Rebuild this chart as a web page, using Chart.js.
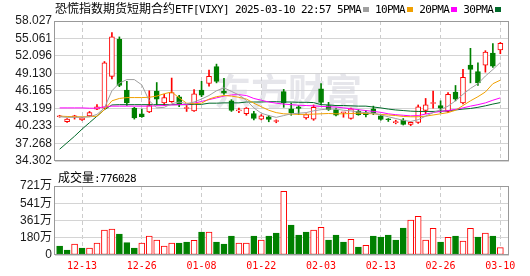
<!DOCTYPE html>
<html>
<head>
<meta charset="utf-8">
<script src="https://cdn.jsdelivr.net/npm/chart.js@4.4.1/dist/chart.umd.min.js"></script>
<style>
html, body { margin: 0; padding: 0; background: #fff; }
#wrap { position: relative; width: 530px; height: 276px; overflow: hidden; }
#kline { position: absolute; left: 0; top: 0; }
#vol { position: absolute; left: 0; top: 170px; }
.txt { position: absolute; white-space: nowrap; font-size: 12px; line-height: 14px; color: #000; }
.cn { font-family: 'Noto Sans CJK SC'; }
.mono { font-family: 'DejaVu Sans Mono'; font-size: 11px; letter-spacing: -0.62px; }
.sq { display: inline-block; width: 6px; height: 5px; margin: 0 6px 0 2px; vertical-align: 1px; }
</style>
</head>
<body>
<div id="wrap">
  <canvas id="kline" width="530" height="170"></canvas>
  <canvas id="vol" width="530" height="106"></canvas>
  <div class="txt" style="left:55px;top:1px;"><span class="cn">恐慌指数期货短期合约</span><span class="mono">ETF[VIXY] 2025-03-10 22:57 5PMA</span><span class="sq" style="background:#a0a0a0"></span><span class="mono">10PMA</span><span class="sq" style="background:#f0a000"></span><span class="mono">20PMA</span><span class="sq" style="background:#ff00ff"></span><span class="mono">30PMA</span><span class="sq" style="background:#006a2a"></span></div>
  <div class="txt" style="left:58px;top:170px;"><span class="cn">成交量</span><span class="mono">:776028</span></div>
</div>
<script>
const dates = ['12-10','12-11','12-12','12-13','12-16','12-17','12-18','12-19','12-20','12-23',
  '12-24','12-26','12-27','12-30','12-31','01-02','01-03','01-06','01-07','01-08',
  '01-10','01-13','01-14','01-15','01-16','01-17','01-21','01-22','01-23','01-24',
  '01-27','01-28','01-29','01-30','01-31','02-03','02-04','02-05','02-06','02-07',
  '02-10','02-11','02-12','02-13','02-14','02-18','02-19','02-20','02-21','02-24',
  '02-25','02-26','02-27','02-28','03-03','03-04','03-05','03-06','03-07','03-10'];

const opens = [41.80, 40.95, 41.80, 41.28, 41.94, 43.10, 43.25, 48.63, 54.90, 46.33,
  43.25, 42.30, 42.60, 46.16, 44.13, 44.35, 45.18, 43.20, 42.80, 46.33,
  47.43, 50.30, 46.10, 44.50, 42.80, 42.32, 42.32, 41.39, 41.77, 41.00,
  46.05, 43.15, 43.50, 41.60, 41.39, 46.55, 43.70, 43.00, 42.48, 41.50,
  42.70, 42.50, 43.15, 41.94, 41.40, 40.80, 41.22, 40.52, 40.84, 42.87,
  44.05, 43.70, 42.70, 45.99, 44.13, 50.56, 49.46, 50.56, 52.59, 53.14];
const highs = [42.05, 41.50, 42.05, 41.70, 42.70, 43.86, 51.16, 56.05, 55.33, 47.80,
  43.40, 43.10, 46.20, 47.60, 45.60, 48.36, 45.45, 43.70, 46.40, 47.80,
  49.73, 50.72, 48.30, 44.70, 43.25, 43.36, 42.70, 42.16, 42.05, 41.28,
  46.44, 44.13, 43.70, 42.30, 43.80, 47.43, 44.24, 43.25, 42.55, 43.25,
  43.00, 42.87, 43.60, 42.05, 41.50, 41.22, 41.50, 40.95, 43.80, 44.90,
  46.16, 44.50, 45.90, 47.10, 49.84, 53.40, 50.94, 53.00, 54.20, 54.40];
const lows = [41.72, 40.84, 41.40, 41.20, 41.83, 43.00, 43.14, 48.20, 46.90, 43.70,
  41.40, 41.70, 42.50, 43.80, 43.70, 44.24, 43.50, 42.70, 42.70, 45.20,
  47.00, 47.54, 45.60, 42.70, 42.50, 42.05, 41.28, 41.28, 40.95, 40.78,
  43.40, 42.05, 42.16, 41.39, 41.20, 43.80, 42.87, 41.94, 41.72, 41.39,
  42.05, 41.77, 42.16, 41.22, 41.00, 40.60, 40.40, 40.30, 40.68, 42.32,
  43.25, 42.50, 42.50, 44.50, 43.97, 47.54, 47.10, 49.35, 50.17, 52.48];
const closes = [41.85, 41.39, 41.85, 41.60, 42.50, 43.50, 50.94, 55.33, 47.10, 44.13,
  41.60, 41.83, 43.70, 44.80, 45.07, 45.90, 43.86, 43.30, 45.70, 45.45,
  48.63, 47.80, 45.80, 42.87, 42.90, 43.25, 41.50, 41.94, 41.33, 41.06,
  44.13, 42.50, 43.20, 42.16, 43.40, 44.24, 43.00, 42.05, 42.52, 43.15,
  42.16, 42.16, 42.50, 41.33, 41.30, 40.87, 40.50, 40.84, 43.50, 43.80,
  44.13, 43.25, 45.60, 44.80, 48.47, 49.84, 47.54, 52.75, 50.39, 54.23];

const ma5 = [41.8, 41.7, 41.7, 41.7, 41.8, 42.2, 43.3, 46.2, 47.5, 48.1,
  48.1, 47.2, 44.5, 43.3, 43.4, 44.0, 44.3, 44.0, 44.3, 44.8,
  45.4, 46.2, 46.7, 46.1, 45.5, 44.6, 43.3, 42.4, 42.0, 41.7,
  42.0, 42.3, 42.4, 42.5, 42.8, 43.0, 43.1, 43.1, 42.9, 42.8,
  42.6, 42.5, 42.4, 42.1, 41.8, 41.5, 41.2, 41.0, 41.3, 41.9,
  42.5, 43.0, 43.6, 44.5, 45.6, 46.6, 47.4, 48.7, 49.8, 51.0];
const ma10 = [41.9, 41.85, 41.8, 41.8, 41.8, 41.9, 43.0, 44.5, 44.9, 45.05,
  45.05, 45.05, 45.1, 45.3, 45.7, 46.0, 45.0, 44.1, 44.0, 44.1,
  44.8, 45.2, 45.4, 45.3, 45.1, 44.8, 44.1, 43.5, 42.9, 42.5,
  42.3, 42.25, 42.2, 42.2, 42.25, 42.3, 42.35, 42.3, 42.3, 42.35,
  42.4, 42.35, 42.3, 42.2, 42.1, 42.0, 41.85, 41.8, 41.8, 41.9,
  42.1, 42.3, 42.5, 42.9, 43.7, 44.5, 45.2, 46.0, 47.4, 48.0];
const ma20 = [43.3, 43.3, 43.3, 43.3, 43.25, 43.25, 43.5, 43.6, 43.6, 43.6,
  43.6, 43.6, 43.6, 43.65, 43.7, 43.8, 43.85, 43.9, 44.1, 44.4,
  44.7, 45.0, 45.3, 45.5, 45.55, 45.4, 44.9, 44.6, 44.3, 44.1,
  43.95, 43.85, 43.75, 43.7, 43.65, 43.55, 43.5, 43.45, 43.3, 43.15,
  43.0, 42.85, 42.7, 42.55, 42.3, 42.15, 42.05, 41.95, 42.0, 42.25,
  42.5, 42.7, 42.85, 43.05, 43.3, 43.6, 43.85, 44.15, 44.6, 45.0];
const ma30 = [36.3, 37.4, 38.5, 39.7, 40.8, 41.9, 43.0, 43.8, 43.85, 43.85,
  43.85, 43.85, 43.85, 43.85, 43.85, 43.85, 43.85, 43.85, 43.9, 43.9,
  44.1, 44.1, 44.15, 44.15, 44.15, 44.3, 44.3, 44.3, 44.35, 44.35,
  44.3, 44.3, 44.25, 44.25, 44.2, 43.85, 43.8, 43.7, 43.7, 43.65,
  43.6, 43.6, 43.45, 43.3, 43.1, 42.95, 42.85, 42.75, 42.7, 42.7,
  42.7, 42.75, 42.8, 42.95, 43.1, 43.2, 43.4, 43.65, 43.95, 44.2];

// volume in 万
const volumes = [94, 52, 115, 73, 73, 125, 261, 271, 219, 129,
  73, 125, 198, 157, 94, 125, 125, 136, 153, 240,
  240, 136, 115, 198, 125, 125, 198, 157, 198, 230,
  665, 313, 209, 240, 261, 289, 157, 209, 136, 164,
  84, 101, 198, 188, 209, 157, 282, 366, 404, 157,
  279, 136, 185, 198, 146, 279, 188, 230, 198, 77.6];
// 1 = red (up), 0 = green (down), as coloured in the volume panel
const volUp = [0, 0, 1, 0, 1, 1, 1, 1, 0, 0,
  0, 1, 1, 1, 1, 1, 0, 0, 1, 0,
  1, 0, 0, 0, 1, 1, 0, 1, 0, 0,
  1, 0, 0, 0, 1, 1, 0, 0, 0, 1,
  0, 1, 0, 0, 0, 0, 0, 1, 1, 1,
  1, 0, 1, 0, 1, 1, 0, 1, 0, 1];

const priceTicks = [34.302, 37.268, 40.233, 43.199, 46.165, 49.130, 52.096, 55.061, 58.027];
const priceTickLabels = ['34.302', '37.268', '40.233', '43.199', '46.165', '49.130', '52.096', '55.061', '58.027'];
const volTicks = [0, 180.25, 360.5, 540.75, 721];
const volTickLabels = ['0', '180万', '361万', '541万', '721万'];
const dateTicks = ['12-13', '12-26', '01-08', '01-22', '02-03', '02-13', '02-26', '03-10'];

const RED = '#ff0000';
const GREEN = '#008000';
const idx = dates.map((d, i) => i);

const framePlugin = {
  id: 'frame',
  beforeDatasetsDraw(chart, args, opts) {
    if (!opts.watermark) return;
    const ctx = chart.ctx;
    ctx.save();
    ctx.font = 'bold 37px "Noto Sans CJK SC"';
    ctx.fillStyle = 'rgba(205, 205, 215, 0.5)';
    ctx.textBaseline = 'middle';
    ctx.fillText('东方财富', 214, 92);
    ctx.restore();
  },
  afterDraw(chart) {
    const a = chart.chartArea;
    const ctx = chart.ctx;
    ctx.save();
    ctx.strokeStyle = '#999';
    ctx.lineWidth = 1;
    ctx.strokeRect(Math.floor(a.left) - 0.5, Math.floor(a.top) + 0.5,
      Math.round(a.right - a.left), Math.round(a.bottom - a.top) - 1);
    ctx.restore();
  }
};

function xAxis(showLabels, height) {
  return {
    type: 'linear',
    min: -0.62,
    max: 60.16,
    offset: false,
    afterBuildTicks: s => { s.ticks = dateTicks.map(d => ({ value: dates.indexOf(d) })); },
    afterFit: s => { s.height = height; },
    grid: { color: '#cccccc', drawTicks: false, offset: false },
    border: { display: false, dash: [4, 3] },
    ticks: {
      display: showLabels,
      autoSkip: false,
      maxRotation: 0,
      padding: 5,
      color: RED,
      font: { family: 'DejaVu Sans Mono', size: 10 },
      callback: v => dates[v]
    }
  };
}

function yAxis(min, max, tickVals, tickLabels) {
  return {
    min: min,
    max: max,
    afterBuildTicks: s => { s.ticks = tickVals.map(v => ({ value: v })); },
    afterFit: s => { s.width = 55; },
    grid: { color: '#d4d4d4', drawTicks: false },
    border: { display: false },
    ticks: {
      autoSkip: false,
      padding: 3,
      color: '#1a1a1a',
      font: { family: 'Liberation Sans, "Noto Sans CJK SC"', size: 12, lineHeight: 1 },
      callback: (v, i) => tickLabels[i]
    }
  };
}

const isUp = i => closes[i] >= opens[i];

function maLine(values, color) {
  return {
    type: 'line',
    data: idx.map(i => ({ x: i, y: values[i] })),
    borderColor: color,
    borderWidth: 1,
    pointRadius: 0,
    tension: 0,
    order: 1
  };
}

new Chart(document.getElementById('kline'), {
  type: 'line',
  data: {
    datasets: [
      {
        type: 'bar',
        data: idx.map(i => ({ x: i, y: [lows[i], highs[i]] })),
        backgroundColor: c => isUp(c.dataIndex) ? RED : GREEN,
        barThickness: 1,
        grouped: false,
        order: 3
      },
      {
        type: 'bar',
        data: idx.map(i => ({ x: i, y: [opens[i], closes[i]] })),
        backgroundColor: c => isUp(c.dataIndex) ? '#ffffff' : GREEN,
        borderColor: c => isUp(c.dataIndex) ? RED : GREEN,
        borderWidth: 1,
        borderSkipped: false,
        barThickness: 5,
        minBarLength: 1,
        grouped: false,
        order: 2
      },
      maLine(ma5, '#a0a0a0'),
      maLine(ma10, '#f0a000'),
      maLine(ma20, '#ff00ff'),
      maLine(ma30, '#006a2a')
    ]
  },
  options: {
    responsive: false,
    animation: false,
    layout: { padding: { left: 0, right: 21, top: 21, bottom: 5 } },
    plugins: { legend: { display: false }, tooltip: { enabled: false }, frame: { watermark: true } },
    scales: {
      x: xAxis(false, 0),
      y: yAxis(34.302, 58.027, priceTicks, priceTickLabels)
    }
  },
  plugins: [framePlugin]
});

new Chart(document.getElementById('vol'), {
  type: 'line',
  data: {
    datasets: [{
      type: 'bar',
      data: idx.map(i => ({ x: i, y: volumes[i] })),
      backgroundColor: c => volUp[c.dataIndex] ? '#ffffff' : GREEN,
      borderColor: c => volUp[c.dataIndex] ? RED : GREEN,
      borderWidth: 1,
      borderSkipped: false,
      barThickness: 6,
      grouped: false
    }]
  },
  options: {
    responsive: false,
    animation: false,
    layout: { padding: { left: 0, right: 21, top: 16, bottom: 0 } },
    plugins: { legend: { display: false }, tooltip: { enabled: false }, frame: { watermark: false } },
    scales: {
      x: xAxis(true, 21),
      y: yAxis(0, 721, volTicks, volTickLabels)
    }
  },
  plugins: [framePlugin]
});
</script>
</body>
</html>
